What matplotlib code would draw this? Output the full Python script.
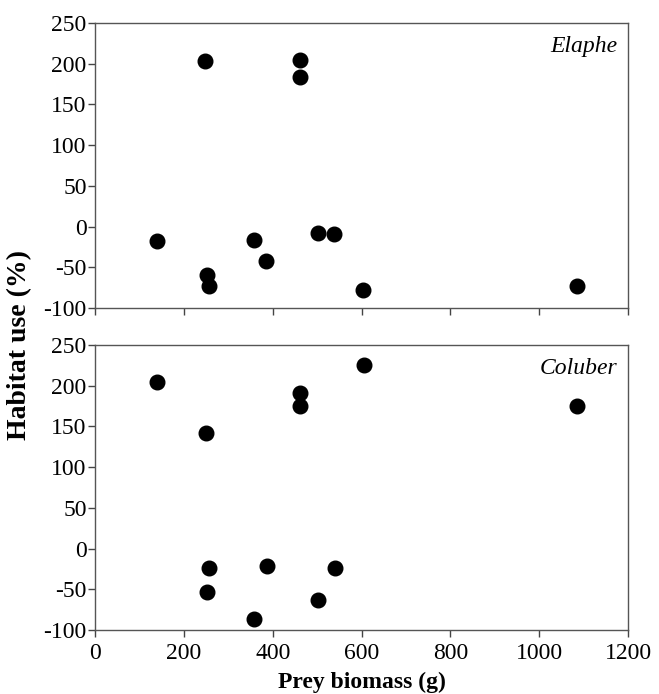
import matplotlib
matplotlib.use("Agg")
import matplotlib.pyplot as plt

# prey biomass (g) per site, same for both species
biomass = [139, 248, 253, 257, 357, 386, 462, 462, 501, 538, 604, 1085]
elaphe = [-18, 203, -60, -73, -16, -42, 204, 184, -8, -9, -78, -73]
coluber_x = [139, 249, 253, 257, 358, 387, 462, 462, 502, 540, 606, 1086]
coluber = [205, 142, -53, -24, -86, -22, 191, 175, -63, -24, 225, 175]

y_ticks = [-100, -50, 0, 50, 100, 150, 200, 250]
x_ticks = [0, 200, 400, 600, 800, 1000, 1200]

plt.rcParams['font.family'] = ['Liberation Serif', 'DejaVu Serif']
plt.rcParams['font.size'] = 17
plt.rcParams['axes.unicode_minus'] = False

fig = plt.figure(figsize=(6.59, 6.94), dpi=100)
ax1 = fig.add_axes([0.1442, 0.5562, 0.8088, 0.4107])
ax2 = fig.add_axes([0.1442, 0.0922, 0.8088, 0.4107])

for ax, xs, ys, name in [(ax1, biomass, elaphe, "Elaphe"),
                         (ax2, coluber_x, coluber, "Coluber")]:
    ax.plot(xs, ys, 'o', color='black', markersize=10.5, linestyle='none')
    ax.set_xlim(0, 1200)
    ax.set_ylim(-100, 250)
    ax.set_yticks(y_ticks)
    ax.set_xticks(x_ticks)
    ax.tick_params(direction='out', length=5, width=1, color='#444444', pad=1)
    ax.tick_params(axis='x', pad=4)
    for s in ax.spines.values():
        s.set_color('#555555')
        s.set_linewidth(1)
    ax.text(0.981, 0.955, name, transform=ax.transAxes, ha='right', va='top',
            style='italic', fontsize=17)

ax1.set_xticklabels([])
ax2.set_xlabel("Prey biomass (g)", fontweight='bold', fontsize=17, labelpad=6)
fig.text(0.03, 0.503, "Habitat use (%)", rotation=90, ha='center', va='center',
         fontweight='bold', fontsize=20)

fig.savefig("out.png", dpi=100)
